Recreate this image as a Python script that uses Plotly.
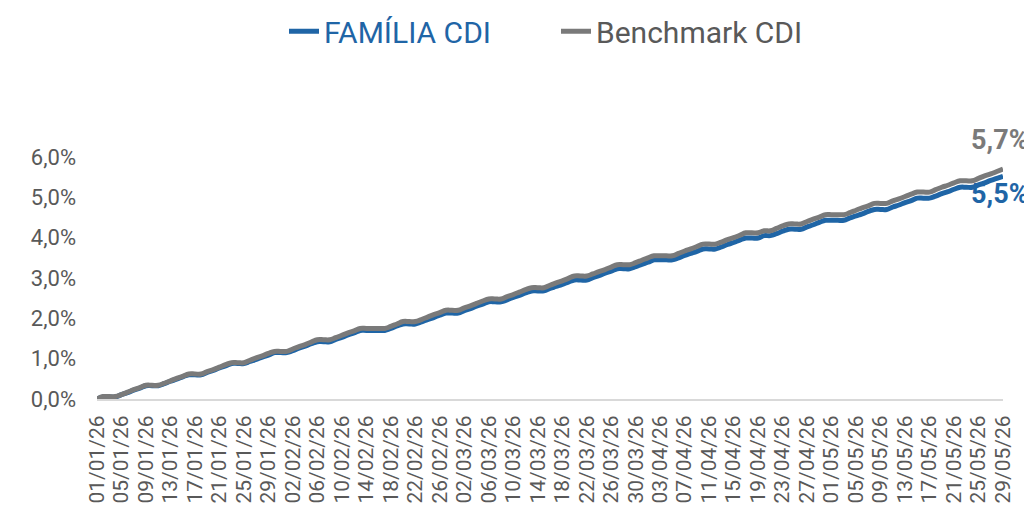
import pandas as pd
import plotly.graph_objects as go

# Daily dates 01/01/26 .. 29/05/26
dates = [d.strftime("%d/%m/%y") for d in pd.date_range("2026-01-01", "2026-05-29", freq="D")]

# Cumulative return (%)
bench = [
    # Jan
    0.00, 0.06, 0.06, 0.06, 0.11, 0.17, 0.23, 0.28, 0.34, 0.34, 0.34, 0.39, 0.45, 0.51, 0.56, 0.62,
    0.62, 0.62, 0.68, 0.73, 0.79, 0.85, 0.90, 0.90, 0.90, 0.96, 1.02, 1.07, 1.13, 1.18, 1.18,
    # Feb
    1.18, 1.24, 1.30, 1.35, 1.41, 1.47, 1.47, 1.47, 1.52, 1.58, 1.64, 1.69, 1.75, 1.75, 1.75, 1.75,
    1.75, 1.80, 1.86, 1.92, 1.92, 1.92, 1.97, 2.03, 2.09, 2.14, 2.20, 2.20,
    # Mar
    2.20, 2.26, 2.31, 2.37, 2.43, 2.48, 2.48, 2.48, 2.54, 2.59, 2.65, 2.71, 2.76, 2.76, 2.76, 2.82,
    2.88, 2.93, 2.99, 3.05, 3.05, 3.05, 3.10, 3.16, 3.21, 3.27, 3.33, 3.33, 3.33, 3.38, 3.44,
    # Apr
    3.50, 3.55, 3.55, 3.55, 3.55, 3.61, 3.67, 3.72, 3.78, 3.84, 3.84, 3.84, 3.89, 3.95, 4.00, 4.06,
    4.12, 4.12, 4.12, 4.17, 4.17, 4.23, 4.29, 4.34, 4.34, 4.34, 4.40, 4.46, 4.51, 4.57,
    # May
    4.57, 4.57, 4.57, 4.62, 4.68, 4.74, 4.79, 4.85, 4.85, 4.85, 4.91, 4.96, 5.02, 5.08, 5.13, 5.13,
    5.13, 5.19, 5.25, 5.30, 5.36, 5.41, 5.41, 5.41, 5.47, 5.53, 5.58, 5.64, 5.70,
]

familia = [
    # Jan
    0.00, 0.05, 0.05, 0.05, 0.11, 0.16, 0.22, 0.27, 0.33, 0.33, 0.33, 0.38, 0.44, 0.49, 0.55, 0.60,
    0.60, 0.60, 0.66, 0.71, 0.77, 0.82, 0.88, 0.88, 0.88, 0.93, 0.98, 1.04, 1.09, 1.15, 1.15,
    # Feb
    1.15, 1.20, 1.26, 1.31, 1.37, 1.42, 1.42, 1.42, 1.48, 1.53, 1.59, 1.64, 1.70, 1.70, 1.70, 1.70,
    1.70, 1.75, 1.81, 1.86, 1.86, 1.86, 1.91, 1.97, 2.02, 2.08, 2.13, 2.13,
    # Mar
    2.13, 2.19, 2.24, 2.30, 2.35, 2.41, 2.41, 2.41, 2.46, 2.52, 2.57, 2.63, 2.68, 2.68, 2.68, 2.74,
    2.79, 2.84, 2.90, 2.95, 2.95, 2.95, 3.01, 3.06, 3.12, 3.17, 3.23, 3.23, 3.23, 3.28, 3.34,
    # Apr
    3.39, 3.45, 3.45, 3.45, 3.45, 3.50, 3.56, 3.61, 3.66, 3.72, 3.72, 3.72, 3.77, 3.83, 3.88, 3.94,
    3.99, 3.99, 3.99, 4.05, 4.05, 4.10, 4.16, 4.21, 4.21, 4.21, 4.27, 4.32, 4.38, 4.43,
    # May
    4.43, 4.43, 4.43, 4.49, 4.54, 4.59, 4.65, 4.70, 4.70, 4.70, 4.76, 4.81, 4.87, 4.92, 4.98, 4.98,
    4.98, 5.03, 5.09, 5.14, 5.20, 5.25, 5.25, 5.25, 5.31, 5.36, 5.42, 5.47, 5.52,
]

tick_labels = dates[::4]
y_ticks = [0, 1, 2, 3, 4, 5, 6]
y_tick_text = ["0,0%", "1,0%", "2,0%", "3,0%", "4,0%", "5,0%", "6,0%"]

BLUE = "#1f65a6"
GRAY = "#7a7a7a"
TXT = "#595959"

fig = go.Figure()
fig.add_trace(go.Scatter(
    x=dates, y=familia, mode="lines",
    name=f"<span style='color:{BLUE}'>FAMÍLIA CDI</span>",
    line=dict(color=BLUE, width=5, shape="spline", smoothing=1.3),
))
fig.add_trace(go.Scatter(
    x=dates, y=bench, mode="lines",
    name=f"<span style='color:{TXT}'>Benchmark CDI</span>",
    line=dict(color=GRAY, width=5, shape="spline", smoothing=1.3),
))

fig.add_annotation(x=dates[-1], y=bench[-1], text="<b>5,7%</b>", showarrow=False,
                   xanchor="right", yanchor="middle", yshift=29, xshift=28,
                   font=dict(family="Roboto", size=27, color=GRAY))
fig.add_annotation(x=dates[-1], y=familia[-1], text="<b>5,5%</b>", showarrow=False,
                   xanchor="right", yanchor="middle", yshift=-18, xshift=28,
                   font=dict(family="Roboto", size=27, color=BLUE))

# The page body adds an 8px offset; margins compensate for it.
fig.update_layout(
    width=1032, height=510,
    margin=dict(l=89, r=37, t=149, b=119, autoexpand=False),
    paper_bgcolor="white", plot_bgcolor="white",
    separators=",.",
    font=dict(family="Roboto", size=20, color=TXT),
    showlegend=True,
    legend=dict(orientation="h", x=0.2064, xanchor="left", y=1.52, yanchor="middle",
                font=dict(family="Roboto", size=30, color=TXT),
                entrywidth=227, entrywidthmode="pixels",
                traceorder="normal"),
    xaxis=dict(
        type="category", range=[0, len(dates) - 1],
        tickmode="array", tickvals=tick_labels, ticktext=tick_labels,
        tickangle=-90, showgrid=False, showline=True, linecolor="#d9d9d9", linewidth=2,
        ticks="", ticklabelstandoff=6, automargin=False,
        tickfont=dict(family="Roboto", size=21, color=TXT),
    ),
    yaxis=dict(
        range=[0, 6], tickmode="array", tickvals=y_ticks, ticktext=y_tick_text,
        showgrid=False, zeroline=False,
        showline=False, ticks="", ticklabelstandoff=20, automargin=False,
        tickfont=dict(family="Roboto", size=22, color=TXT),
    ),
)

fig.write_html("out.html")
